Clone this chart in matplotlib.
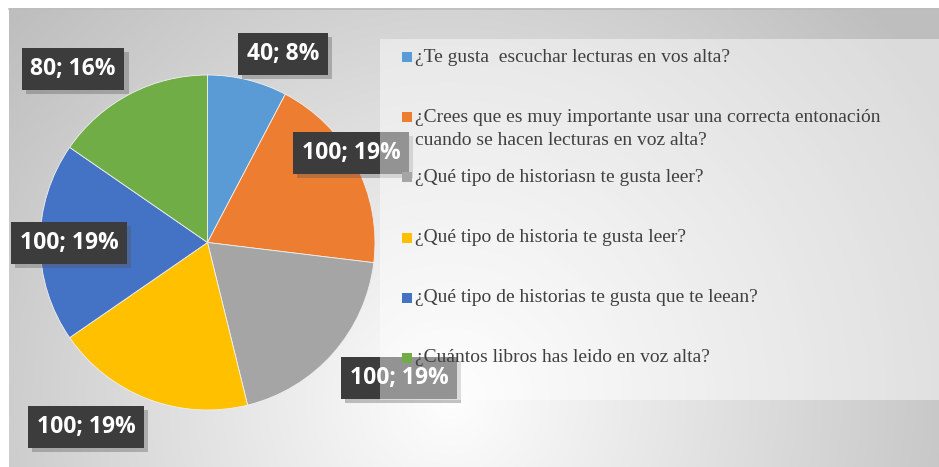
import numpy as np
import matplotlib.pyplot as plt
from matplotlib.patches import Rectangle
import matplotlib.patheffects as pe

# data
preguntas = ['¿Te gusta  escuchar lecturas en vos alta?',
             '¿Crees que es muy importante usar una correcta entonación\ncuando se hacen lecturas en voz alta?',
             '¿Qué tipo de historiasn te gusta leer?',
             '¿Qué tipo de historia te gusta leer?',
             '¿Qué tipo de historias te gusta que te leean?',
             '¿Cuántos libros has leido en voz alta?']
valores = [40, 100, 100, 100, 100, 80]
porcentajes = ['8%', '19%', '19%', '19%', '19%', '16%']
colores = ['#5B9BD5', '#ED7D31', '#A5A5A5', '#FFC000', '#4472C4', '#70AD47']

# label box centres in pixels (x, y from top)
label_xy = [(283, 53), (351, 152), (399, 377), (86, 426), (69, 242), (73, 68)]

W, H = 939, 467
fig = plt.figure(figsize=(W / 100, H / 100), dpi=100)
fig.patch.set_facecolor('white')

# background gradient
bg = fig.add_axes([0, 0, 1, 1], zorder=0)
bg.set_xlim(0, W)
bg.set_ylim(H, 0)
bg.axis('off')
xx, yy = np.meshgrid(np.arange(9, W), np.arange(8, H))
d = np.sqrt((xx - 450) ** 2 + (yy - 400) ** 2)
g = np.clip(254 - 55 * d / 500, 190, 255) / 255.0
bg.imshow(np.dstack([g, g, g]), extent=(9, W, H, 8), aspect='auto', interpolation='bilinear')
bg.plot([9, W], [8.5, 8.5], color='#bdbdbd', lw=1.2)

# pie
cx, cy, r = 207.5, 242.5, 167.5
pax = fig.add_axes([(cx - r) / W, (H - cy - r) / H, 2 * r / W, 2 * r / H], zorder=1)
pax.pie(valores, colors=colores, startangle=90, counterclock=False,
        wedgeprops=dict(linewidth=0.6, edgecolor='#f0f0f0'))
pax.set_xlim(-1, 1)
pax.set_ylim(-1, 1)
pax.patch.set_alpha(0)

# overlay for labels and legend
ov = fig.add_axes([0, 0, 1, 1], zorder=2)
ov.set_xlim(0, W)
ov.set_ylim(H, 0)
ov.axis('off')
ov.patch.set_alpha(0)

for (x, y), v, p in zip(label_xy, valores, porcentajes):
    t = ov.text(x, y + 1, f'{v}; {p}', ha='center', va='center', color='white',
                fontsize=16.5, fontweight='bold', fontfamily=['Open Sans', 'DejaVu Sans'], zorder=3,
                bbox=dict(boxstyle='square,pad=0.38', facecolor='#3c3c3c',
                          edgecolor='none'))
    t.get_bbox_patch().set_path_effects([
        pe.SimplePatchShadow(offset=(3, -3), shadow_rgbFace='#555555', alpha=0.35),
        pe.Normal()])

# legend panel (semi transparent, over the labels)
ov.add_patch(Rectangle((380, 39), W - 380, 361, facecolor='white', alpha=0.45,
                       edgecolor='none', zorder=4))

y0, paso, interlinea = 57, 60.2, 23
for i, (txt, c) in enumerate(zip(preguntas, colores)):
    y = y0 + i * paso
    ov.add_patch(Rectangle((401.5, y - 5), 10, 10, facecolor=c, edgecolor='none', zorder=5))
    for j, linea in enumerate(txt.split('\n')):
        ov.text(415, y + j * interlinea, linea, ha='left', va='center',
                fontsize=14, fontfamily=['Liberation Serif', 'DejaVu Serif'],
                color='#404040', zorder=5)

fig.savefig('out.png', dpi=100)
